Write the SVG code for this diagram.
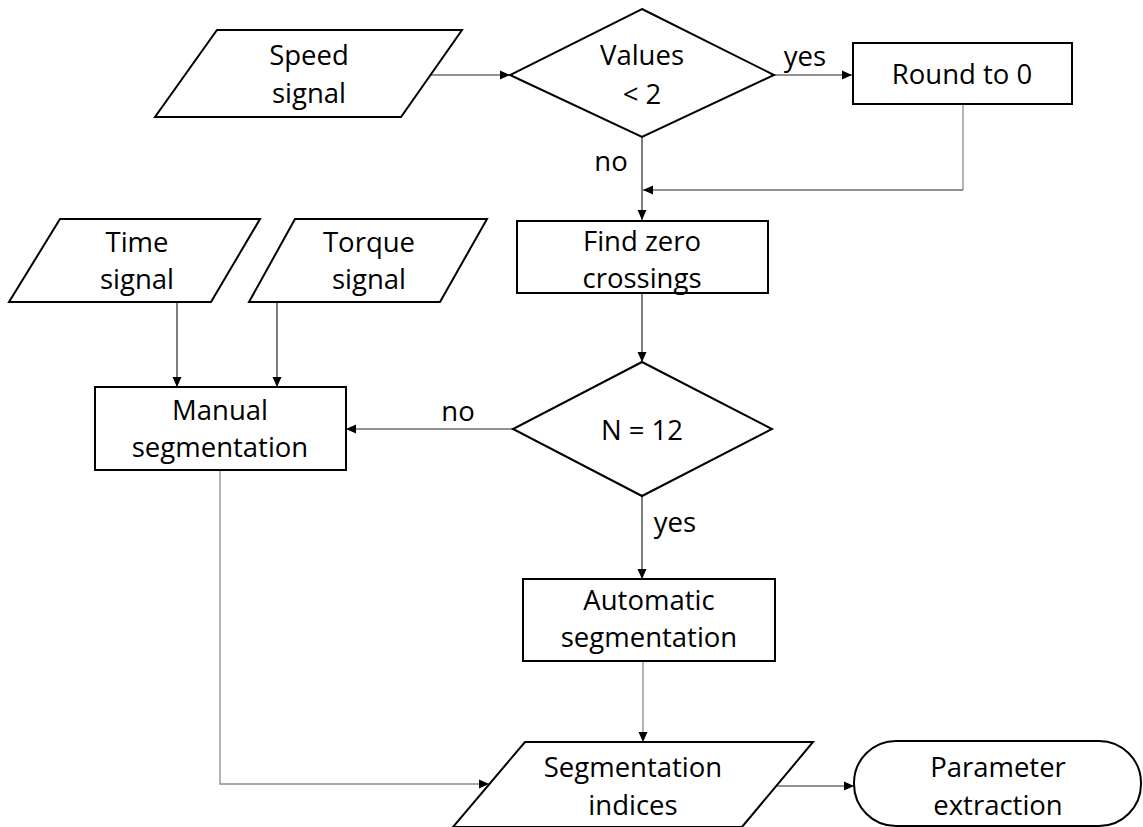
<svg xmlns="http://www.w3.org/2000/svg" width="1143" height="827" viewBox="0 0 1143 827">
<defs>
<style>
.s{fill:#fff;stroke:#000;stroke-width:2}
.t{font-family:"Open Sans","Liberation Sans",sans-serif;font-size:27.5px;fill:#000;text-anchor:middle}
.c{fill:none;stroke:#262626;stroke-width:1.2}
.g{fill:none;stroke:#8c8c8c;stroke-width:1.3}
</style>
<marker id="ah" viewBox="0 0 10 10" refX="10" refY="5" markerWidth="10" markerHeight="10" markerUnits="userSpaceOnUse" orient="auto">
<path d="M0,0.5 L10,5 L0,9.5 Z" fill="#000"/>
</marker>
</defs>
<rect width="1143" height="827" fill="#fff"/>
<g id="connectors">
<line class="c" x1="431" y1="75" x2="510" y2="75" marker-end="url(#ah)"/>
<line class="c" x1="773" y1="75" x2="852" y2="75" marker-end="url(#ah)"/>
<line class="c" x1="642" y1="137" x2="642" y2="220" marker-end="url(#ah)"/>
<polyline class="g" points="963,104 963,190" />
<line class="c" x1="963" y1="190" x2="643" y2="190" marker-end="url(#ah)"/>
<line class="c" x1="642" y1="293" x2="642" y2="362" marker-end="url(#ah)"/>
<line class="c" x1="513" y1="429" x2="346" y2="429" marker-end="url(#ah)"/>
<line class="c" x1="177" y1="302" x2="177" y2="387" marker-end="url(#ah)"/>
<line class="c" x1="277" y1="302" x2="277" y2="387" marker-end="url(#ah)"/>
<line class="c" x1="642" y1="496" x2="642" y2="579" marker-end="url(#ah)"/>
<line class="g" x1="643" y1="661" x2="643" y2="742" marker-end="url(#ah)"/>
<polyline class="g" points="220,470 220,784 489,784" marker-end="url(#ah)"/>
<line class="c" x1="777" y1="786" x2="854" y2="786" marker-end="url(#ah)"/>
</g>
<g id="speed-signal">
<polygon class="s" points="217,30 462,30 401,117 155,117"/>
<text class="t" x="309" y="65">Speed</text>
<text class="t" x="309" y="103">signal</text>
</g>
<g id="values-decision">
<polygon class="s" points="642,9 774,75 642,137 510,75"/>
<text class="t" x="642" y="65">Values</text>
<text class="t" x="642" y="104">&lt; 2</text>
</g>
<g id="round-to-0">
<rect class="s" x="853" y="43" width="219" height="61"/>
<text class="t" x="962" y="84">Round to 0</text>
</g>
<g id="labels">
<text class="t" x="805" y="66">yes</text>
<text class="t" x="611" y="171">no</text>
<text class="t" x="458" y="421">no</text>
<text class="t" x="675" y="532">yes</text>
</g>
<g id="find-zero-crossings">
<rect class="s" x="517" y="221" width="251" height="72"/>
<text class="t" x="642" y="251">Find zero</text>
<text class="t" x="642" y="288">crossings</text>
</g>
<g id="time-signal">
<polygon class="s" points="60,219 260,219 211,302 9,302"/>
<text class="t" x="137" y="252">Time</text>
<text class="t" x="137" y="289">signal</text>
</g>
<g id="torque-signal">
<polygon class="s" points="295,219 487,219 440,302 249,302"/>
<text class="t" x="369" y="252">Torque</text>
<text class="t" x="369" y="289">signal</text>
</g>
<g id="manual-segmentation">
<rect class="s" x="95" y="387" width="251" height="83"/>
<text class="t" x="220" y="420">Manual</text>
<text class="t" x="220" y="457">segmentation</text>
</g>
<g id="n-decision">
<polygon class="s" points="642,362 772,429 642,496 513,429"/>
<text class="t" x="642" y="440">N = 12</text>
</g>
<g id="automatic-segmentation">
<rect class="s" x="523" y="579" width="252" height="82"/>
<text class="t" x="649" y="610">Automatic</text>
<text class="t" x="649" y="647">segmentation</text>
</g>
<g id="segmentation-indices">
<polygon class="s" points="525,742 813,742 742,827 453,827"/>
<text class="t" x="633" y="777">Segmentation</text>
<text class="t" x="633" y="815">indices</text>
</g>
<g id="parameter-extraction">
<rect class="s" x="854" y="741" width="287" height="85" rx="42" ry="42"/>
<text class="t" x="998" y="777">Parameter</text>
<text class="t" x="998" y="815">extraction</text>
</g>
</svg>
